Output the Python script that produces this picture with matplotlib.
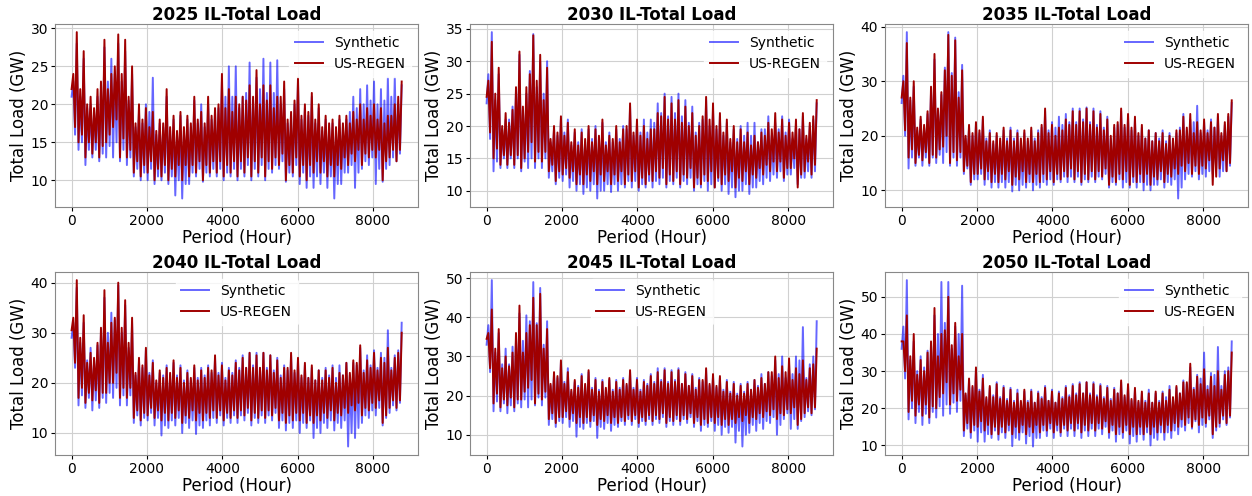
import numpy as np
import matplotlib
matplotlib.use("Agg")
import matplotlib.pyplot as plt

# =====================================================
# DONNEES
# 48 tranches sur l'annee : creux, pic interieur, creux interieur, pic
# =====================================================

years = ["2025", "2030", "2035", "2040", "2045", "2050"]
legend_loc = ["upper right", "upper right", "upper right",
              "upper center", "upper center", "upper right"]

# ---------------- 2025
regen_pk_2025 = [29.5, 27, 21, 22, 28.5, 24, 29.2, 28.5, 25, 20, 19.5, 19, 18, 22, 18.5, 19, 18.5, 21, 19, 21,
                 19.5, 24, 22, 21, 21, 22.5, 24.5, 22.5, 22.5, 21, 23, 19, 23.5, 20, 21.5, 20, 18.5, 18, 18.5, 18.5,
                 19, 20, 19.5, 20, 19.5, 18.5, 20, 23]
regen_tr_2025 = [22, 15, 13, 13.5, 13, 15, 17, 13, 13, 11, 10.5, 11, 10, 10.5, 10, 10.5, 10, 10.5, 11, 10,
                 11, 11, 10.5, 11, 10.5, 11, 10.5, 11, 10.5, 11.5, 12, 10, 11, 10.5, 10, 11, 11, 10.5, 10.5, 11.5,
                 12, 12.5, 12, 13, 13, 10, 13, 12.5]
regen_pk2_2025 = [24, 22, 20, 19.5, 23, 22, 25, 24, 21, 17.5, 18, 17, 16.5, 17.5, 17, 16.5, 17, 17.5, 18, 17.5,
                  18.5, 20, 19.5, 19, 20, 20.5, 21, 20, 20.5, 19.5, 21, 18, 20.5, 18.5, 19, 18, 17, 17.5, 17, 17.5,
                  17.5, 18, 18, 18.5, 18, 17.5, 18.5, 21]
regen_tr2_2025 = [17, 16, 15, 15, 14.5, 16, 18, 15.5, 14, 12.5, 12, 12.5, 11.5, 12, 11.5, 12, 12, 12, 12.5, 12,
                  12.5, 12.5, 12, 12.5, 12.5, 13, 12.5, 13, 12.5, 13, 13.5, 12, 13, 12, 12, 12.5, 12.5, 12, 12, 13,
                  13.5, 14, 13.5, 14, 14, 12.5, 14, 14]
synth_pk_2025 = [28, 26, 20, 21, 27.5, 26, 28, 27, 24, 19, 20, 23.5, 17.5, 21, 18, 18.5, 18, 20.5, 20, 20,
                 19, 23, 25, 25, 21, 25.5, 23.5, 26, 25.5, 25.8, 22, 18.5, 23, 19.5, 21, 19.5, 18, 17.5, 18, 18,
                 21, 22, 22.5, 23, 22, 23.5, 23.5, 22.5]
synth_tr_2025 = [21, 14, 12, 13, 12.5, 13, 13, 12.5, 12, 10.5, 10, 10, 9.5, 10, 9.5, 8, 7.6, 9.5, 10.5, 9.8,
                 10.5, 10.5, 10, 10.5, 10, 10.5, 10, 10.5, 10, 11, 11.5, 9.8, 10.5, 9.5, 9, 9, 9.5, 9, 7.6, 9.5,
                 11, 9, 11.5, 12, 9.5, 9.8, 12, 12.5]
synth_pk2_2025 = [23, 21, 19.5, 19, 22, 23, 24, 23, 20.5, 17, 17.5, 19, 16, 17, 16.5, 16, 16.5, 17, 17.5, 17,
                  18, 19.5, 21, 21, 19.5, 21.5, 20.5, 22, 21.5, 21.5, 20, 17.5, 20, 18, 18.5, 17.5, 16.5, 17, 16.5, 17,
                  19, 19.5, 20, 20.5, 20, 20.5, 21, 20]
synth_tr2_2025 = [16, 15, 14, 14, 13.5, 14.5, 15, 14, 13, 11.5, 11, 11.5, 10.5, 11, 10.5, 10, 9.5, 11, 11.5, 11,
                  11.5, 11.5, 11, 11.5, 11.5, 12, 11.5, 12, 11.5, 12, 12.5, 11, 12, 11, 10.5, 10.5, 11, 10.5, 9.5, 11,
                  12, 11, 12.5, 13, 11.5, 11.5, 13, 13.5]

# ---------------- 2030
regen_pk_2030 = [33, 29, 22, 22.5, 31.5, 26, 34, 31, 29, 20, 21.5, 20.5, 19.5, 19, 20, 19.5, 21, 18.5, 20, 19.5,
                 23.5, 21, 20, 19.5, 22, 24.5, 23.5, 24, 23, 22, 20, 24.5, 23.5, 22, 21, 20, 19.5, 19, 18.5, 19,
                 20.5, 22, 21, 20.5, 21, 22, 20.5, 24]
regen_tr_2030 = [24.5, 15, 14, 14, 14, 13.5, 16, 14.5, 14.5, 13, 11.5, 12.5, 12, 11, 11, 11.5, 11, 11.5, 11, 11.5,
                 11, 11.5, 10.5, 11, 11.5, 12, 11, 11.5, 11, 12, 10.5, 11, 11.5, 10.5, 11, 11.5, 10.5, 11.5, 11, 12,
                 12.5, 13, 13, 12, 13.5, 10.5, 13, 12.5]
regen_pk2_2030 = [27, 25, 20, 20.5, 26, 23, 28, 27, 24, 18, 19, 18.5, 17.5, 17, 18, 17.5, 18.5, 17, 18, 17.5,
                  20, 19, 18.5, 18, 19.5, 21.5, 21, 21, 20.5, 20, 18.5, 21.5, 21, 20, 19, 18, 17.5, 17.5, 17, 17.5,
                  18.5, 19.5, 19, 18.5, 19, 19.5, 18.5, 21.5]
regen_tr2_2030 = [19, 16.5, 15.5, 15.5, 15.5, 15, 17.5, 16, 16, 14, 13, 13.5, 13, 12.5, 12.5, 13, 12.5, 13, 12.5, 13,
                  12.5, 13, 12, 12.5, 13, 13.5, 12.5, 13, 12.5, 13.5, 12, 12.5, 13, 12, 12.5, 13, 12, 13, 12.5, 13.5,
                  14, 14.5, 14.5, 13.5, 15, 12.5, 14.5, 14]
synth_pk_2030 = [34.5, 28, 21, 23, 31, 25, 34.2, 30, 30, 19.5, 21, 21, 19, 19.5, 19.5, 20, 20.5, 19, 19.5, 20,
                 23, 20.5, 21, 21, 23.5, 25, 24.5, 25, 24, 23, 20.5, 24, 22.5, 21.5, 20.5, 19.5, 20, 20.5, 20.5, 19.5,
                 21.5, 20.5, 21.5, 21, 20, 21.5, 20, 23.5]
synth_tr_2030 = [23.5, 13, 13.5, 13.5, 13.5, 13, 13.5, 13.5, 13.5, 12, 11, 11.5, 10.5, 10, 9.5, 10, 8.8, 10, 9.8, 10,
                 10.5, 10.5, 10, 10.5, 10.5, 11, 10.5, 11, 10.5, 11, 10, 10.5, 10, 10.5, 10, 9.5, 9, 10, 9.5, 10.5,
                 11, 11.5, 12, 11.5, 12.5, 11, 12, 12]
synth_pk2_2030 = [28, 24, 19.5, 21, 25.5, 22.5, 28.5, 26, 25, 17.5, 18.5, 19, 17, 17.5, 17.5, 18, 18, 17.5, 17.5, 18,
                  19.5, 18.5, 19, 19, 20.5, 22, 21.5, 22, 21.5, 20.5, 19, 21, 20, 19.5, 18.5, 17.5, 18, 18.5, 18.5, 17.5,
                  19.5, 18.5, 19.5, 19, 18, 19.5, 18, 21]
synth_tr2_2030 = [18, 14.5, 15, 15, 15, 14.5, 15, 15, 15, 13, 12, 12.5, 11.5, 11, 10.5, 11, 10, 11, 11, 11,
                  11.5, 11.5, 11, 11.5, 11.5, 12, 11.5, 12, 11.5, 12, 11, 11.5, 11, 11.5, 11, 10.5, 10, 11, 10.5, 11.5,
                  12, 12.5, 13, 12.5, 13.5, 12, 13, 13]

# ---------------- 2035
regen_pk_2035 = [37, 30, 23.5, 24.5, 35, 28, 38.5, 37.5, 32, 22, 22.5, 23.5, 20.5, 20.5, 21.5, 21, 20.5, 21, 21.5, 20.5,
                 25, 22, 21.5, 23, 24.5, 24.5, 25, 24.5, 24, 23, 22, 25, 24, 23.5, 22, 21, 20.5, 20.5, 20, 21,
                 23.5, 24, 22.5, 23, 22.5, 24, 22.5, 26.5]
regen_tr_2035 = [27, 16, 15, 15.5, 15, 16, 18, 15, 15.5, 13.5, 11.5, 13, 12, 11.5, 11.5, 12, 11, 12, 11.5, 11.5,
                 11.5, 12, 11.5, 12, 12.5, 12, 11.5, 12, 12, 12.5, 11, 11.5, 12, 11, 11.5, 11.5, 11, 12, 11.5, 12.5,
                 13, 13.5, 13, 13, 14, 11, 14, 13.5]
regen_pk2_2035 = [30, 27, 21.5, 22, 29, 25, 32, 31, 27, 20, 20.5, 21, 19, 19, 19.5, 19, 19, 19.5, 19.5, 19,
                  22, 20.5, 20, 21, 22, 22, 22.5, 22, 21.5, 21, 20, 22.5, 22, 21.5, 20.5, 19.5, 19, 19, 18.5, 19.5,
                  21, 21.5, 20.5, 21, 20.5, 21.5, 20.5, 24]
regen_tr2_2035 = [21, 17.5, 16.5, 17, 16.5, 17.5, 20, 17, 17, 14.5, 13, 14, 13.5, 13, 13, 13.5, 12.5, 13.5, 13, 13,
                  13, 13.5, 13, 13.5, 14, 13.5, 13, 13.5, 13.5, 14, 12.5, 13, 13.5, 12.5, 13, 13, 12.5, 13.5, 13, 14,
                  14.5, 15, 14.5, 14.5, 15.5, 12.5, 15.5, 15]
synth_pk_2035 = [39, 29, 23, 24, 34, 27.5, 39, 38, 33, 21.5, 22, 23, 21, 20, 21, 21.5, 21, 20.5, 21, 21,
                 24.5, 22.5, 23.5, 24, 25, 25, 25.2, 25, 24.5, 23.5, 21.5, 24.5, 23.5, 23, 21.5, 21, 20.5, 21, 20.5, 20.5,
                 24, 23, 25.5, 22.5, 23, 23.5, 22, 26]
synth_tr_2035 = [26, 14, 14.5, 14.5, 14.5, 15, 15, 14.5, 14.5, 13, 11, 12, 11, 10.5, 10.5, 10.5, 9.8, 10, 10.5, 10,
                 10.5, 11, 11, 11.5, 11.5, 11.5, 11, 11.5, 11.5, 12, 10.5, 11, 10.5, 10.5, 10.5, 10, 10, 11, 10.5, 11,
                 8.5, 12, 12.5, 12, 12.5, 13, 12.5, 13.5]
synth_pk2_2035 = [31, 26.5, 21, 21.5, 28, 24.5, 32.5, 31.5, 28, 19.5, 20, 20.5, 19.5, 18.5, 19, 19.5, 19.5, 19, 19, 19.5,
                  21.5, 21, 21.5, 22, 22.5, 22.5, 23, 22.5, 22, 21.5, 19.5, 22, 21.5, 21, 20, 19.5, 19, 19.5, 19, 19,
                  21.5, 21, 22.5, 20.5, 21, 21.5, 20, 23.5]
synth_tr2_2035 = [20, 16, 16, 16, 16, 16.5, 17, 16, 16, 14, 12, 13, 12, 11.5, 11.5, 11.5, 11, 11, 11.5, 11,
                  11.5, 12, 12, 12.5, 12.5, 12.5, 12, 12.5, 12.5, 13, 11.5, 12, 11.5, 11.5, 11.5, 11, 11, 12, 11.5, 12,
                  10.5, 13, 13.5, 13, 13.5, 14, 13.5, 14.5]

# ---------------- 2040
regen_pk_2040 = [40.5, 33.5, 26, 28, 38.5, 32, 40, 36.5, 33, 25, 27, 24, 22.5, 23, 24.5, 23, 22, 23.5, 22.5, 23,
                 25.5, 23.5, 22.5, 24, 25, 26, 25.5, 26, 25.5, 24.5, 23, 26, 25, 24, 23.5, 22.5, 22.5, 23, 22, 24,
                 24.5, 27.5, 24.5, 26, 25, 27, 25, 30]
regen_tr_2040 = [30.5, 17, 16, 16.5, 16, 18, 20, 17, 17, 13, 12.5, 13.5, 13, 12.5, 12.5, 13, 12, 13, 12.5, 12.5,
                 13, 13, 12.5, 13, 13, 13.5, 12.5, 13, 13, 13.5, 12.5, 12, 12.5, 12.5, 12, 12, 12.5, 13, 12.5, 13.5,
                 14, 14.5, 13.5, 14.5, 15, 12, 15, 15]
regen_pk2_2040 = [33, 29, 24, 25, 31, 28, 33, 31, 28, 22, 23.5, 21.5, 20.5, 21, 22, 21, 20, 21, 20.5, 21,
                  22.5, 21.5, 20.5, 21.5, 22.5, 23, 23, 23, 22.5, 22, 21, 23, 22.5, 21.5, 21, 20.5, 20.5, 21, 20, 21.5,
                  22, 24, 22, 23, 22.5, 24, 22.5, 26]
regen_tr2_2040 = [24, 19, 18, 18.5, 18, 20, 22, 19, 19, 14.5, 14, 15, 14.5, 14, 14, 14.5, 13.5, 14.5, 14, 14,
                  14.5, 14.5, 14, 14.5, 14.5, 15, 14, 14.5, 14.5, 15, 14, 13.5, 14, 14, 13.5, 13.5, 14, 14.5, 14, 15,
                  15.5, 16, 15, 16, 16.5, 13.5, 16.5, 16.5]
synth_pk_2040 = [39, 32, 27, 27.5, 37, 34, 39.5, 35.5, 32, 24.5, 26.5, 24.5, 22, 23.5, 24, 23.5, 22.5, 23, 23, 23.5,
                 25, 24, 23, 24.5, 25.5, 26, 26, 26, 25.5, 25, 23.5, 25.5, 24.5, 23.5, 23, 22.5, 23, 23.5, 23.5, 24,
                 24, 27, 25.5, 26.5, 26, 30.5, 25.5, 32]
synth_tr_2040 = [29, 15.5, 15, 14.5, 15, 16, 17, 15.5, 15.5, 12, 11.5, 12.5, 11.5, 9.5, 11, 11.5, 10, 11, 9.8, 11,
                 11.5, 12, 11.5, 12, 12, 12.5, 11.5, 12, 12, 12.5, 11, 10.5, 11, 10, 11, 9, 10, 11, 10.5, 11,
                 7.3, 9, 12, 13, 13.5, 11.5, 14, 14.5]
synth_pk2_2040 = [32, 28, 24.5, 24.5, 30, 30, 32.5, 30, 27, 21.5, 23, 22, 20, 21.5, 21.5, 21.5, 20.5, 20.5, 21, 21.5,
                  22, 22, 21, 22, 23, 23, 23.5, 23, 23, 22.5, 21.5, 22.5, 22, 21, 21, 20.5, 21, 21.5, 21, 21.5,
                  21.5, 23.5, 22.5, 23.5, 23, 25, 23, 26.5]
synth_tr2_2040 = [23, 17.5, 17, 16.5, 17, 18, 19, 17.5, 17.5, 13.5, 13, 14, 13, 11.5, 12.5, 13, 12, 12.5, 11.5, 12.5,
                  13, 13.5, 13, 13.5, 13.5, 14, 13, 13.5, 13.5, 14, 12.5, 12, 12.5, 12, 12.5, 11, 12, 12.5, 12, 12.5,
                  10, 11, 13.5, 14.5, 15, 13, 15.5, 16]

# ---------------- 2045
regen_pk_2045 = [42, 37, 30, 31, 43, 36, 45, 46, 37, 26, 29, 26, 24, 25, 26.5, 24, 23.5, 24.5, 23.5, 24,
                 26.5, 24, 23.5, 25, 26, 26.5, 26, 26.5, 25.5, 25, 24, 27, 25.5, 25, 23.5, 23, 22.5, 23, 24, 24.5,
                 26, 30, 27.5, 29.5, 27, 29, 27, 32]
regen_tr_2045 = [34.5, 18, 17, 17.5, 17, 19, 22, 18, 19, 14, 13, 14.5, 14, 13, 13, 13.5, 12.5, 13.5, 13, 13,
                 13.5, 13.5, 13, 13.5, 13.5, 14, 13, 13.5, 13.5, 14, 13, 12.5, 13, 13, 12.5, 12.5, 13, 13.5, 13, 14,
                 14.5, 15, 14, 15, 15.5, 12.5, 15.5, 15.5]
regen_pk2_2045 = [36, 32, 27, 27.5, 36, 31, 38, 38, 32, 23, 25, 23, 21.5, 22, 23, 21.5, 21, 22, 21, 21.5,
                  23, 21.5, 21, 22.5, 23, 23.5, 23, 23.5, 23, 22.5, 21.5, 24, 23, 22.5, 21, 20.5, 20, 20.5, 21.5, 22,
                  23, 26, 24.5, 26, 24, 25.5, 24, 28]
regen_tr2_2045 = [27, 20.5, 19, 19.5, 19, 21, 24, 20.5, 21, 15.5, 14.5, 16, 15.5, 14.5, 14.5, 15, 14, 15, 14.5, 14.5,
                  15, 15, 14.5, 15, 15, 15.5, 14.5, 15, 15, 15.5, 14.5, 14, 14.5, 14.5, 14, 14, 14.5, 15, 14.5, 15.5,
                  16, 16.5, 15.5, 16.5, 17, 14, 17, 17]
synth_pk_2045 = [49.5, 36, 32, 32.5, 41, 40.5, 49, 47.5, 39, 25.5, 28.5, 27, 23.5, 25.5, 26, 24.5, 24, 24, 24, 24.5,
                 26, 24.5, 24, 25.5, 27, 27, 26.5, 27, 26, 25.5, 24.5, 26.5, 25, 24.5, 24, 23.5, 23, 23.5, 24, 25.5,
                 26, 29, 30, 28, 30, 37.5, 28, 39]
synth_tr_2045 = [33, 16, 16, 15.5, 16, 17, 17, 17.5, 17.5, 12.5, 12, 13, 12, 9.5, 11.5, 12, 9.2, 11.5, 11, 12,
                 12.5, 12.5, 12, 12.5, 12.5, 13, 12, 12.5, 12.5, 13, 12, 11, 12, 11, 10, 10.5, 8, 7, 10.5, 11,
                 11.5, 13, 10, 14, 11.5, 11.5, 14.5, 15]
synth_pk2_2045 = [38, 31, 28, 28, 34, 34, 39, 38.5, 33, 22.5, 24.5, 23.5, 21, 22.5, 22.5, 22, 21.5, 21.5, 21.5, 22,
                  22.5, 22, 21.5, 23, 23.5, 24, 23.5, 24, 23, 22.5, 22, 23.5, 22.5, 22, 21.5, 21, 20.5, 21, 21.5, 22.5,
                  23, 25, 25.5, 24.5, 25.5, 29, 24.5, 30]
synth_tr2_2045 = [26, 18.5, 18, 17.5, 18, 19, 19, 19.5, 19.5, 14, 13.5, 14.5, 13.5, 12, 13, 13.5, 12, 13, 12.5, 13.5,
                  14, 14, 13.5, 14, 14, 14.5, 13.5, 14, 14, 14.5, 13.5, 12.5, 13.5, 12.5, 12, 12, 11, 10, 12.5, 13,
                  13.5, 14.5, 12.5, 15.5, 14, 13.5, 16, 16.5]

# ---------------- 2050
regen_pk_2050 = [45, 40, 33, 35, 47, 40, 50, 43, 40, 28, 31, 28, 26, 26.5, 25.5, 25, 24, 25, 24.5, 24,
                 25.5, 24.5, 24, 25.5, 26, 26.5, 27, 26.5, 26, 25.5, 25, 27.5, 26.5, 25.5, 24.5, 24, 24.5, 24, 25, 26,
                 27, 32, 28.5, 30.5, 28.5, 30, 29, 35]
regen_tr_2050 = [38, 19, 18, 18, 17.5, 20, 24, 21, 22, 14, 13.5, 15, 14, 13, 13, 13.5, 13, 13.5, 13, 13.5,
                 13.5, 14, 13.5, 13.5, 14, 14, 13.5, 14, 14, 14.5, 13.5, 13, 13.5, 13, 13, 13, 13, 13.5, 13.5, 14,
                 15, 15.5, 15, 15.5, 16, 13, 16, 16]
regen_pk2_2050 = [38, 34, 29, 30, 38, 34, 41, 37, 34, 24, 26, 24.5, 23, 23, 22.5, 22, 21.5, 22, 21.5, 21.5,
                  22.5, 22, 21.5, 22.5, 23, 23.5, 24, 23.5, 23, 22.5, 22, 24, 23.5, 22.5, 22, 21.5, 21.5, 21.5, 22, 23,
                  24, 27, 25, 26.5, 25, 26, 25, 30]
regen_tr2_2050 = [30, 22, 21, 21, 20.5, 23, 27, 24, 25, 16, 15.5, 16.5, 15.5, 15, 15, 15.5, 15, 15.5, 15, 15.5,
                  15.5, 16, 15.5, 15.5, 16, 16, 15.5, 16, 16, 16.5, 15.5, 15, 15.5, 15, 15, 15, 15, 15.5, 15.5, 16,
                  17, 17.5, 17, 17.5, 18, 15, 18, 18]
synth_pk_2050 = [54.5, 38, 34, 35.5, 45, 54, 54, 42, 53, 27.5, 30, 29, 25.5, 27, 26, 25.5, 25, 24.5, 25, 24.5,
                 26, 25, 24.5, 26, 26.5, 27, 27, 27, 26.5, 26, 25.5, 27, 26, 25, 24, 25, 24, 24.5, 26, 25.5,
                 27.5, 31, 29, 35, 29.5, 36.5, 30, 38]
synth_tr_2050 = [36, 17, 16, 15.5, 16, 17.5, 18, 18.5, 19, 12.5, 12, 11, 11, 12, 11.5, 12, 9.8, 11.5, 10.5, 9.7,
                 12, 12.5, 12, 12.5, 12.5, 12.5, 12, 12.5, 12.5, 13, 12, 11, 12, 10.5, 11, 11.5, 10, 11.5, 11.5, 12,
                 13, 14, 14.5, 13.5, 15, 12, 15, 15.5]
synth_pk2_2050 = [42, 33, 30, 31, 37, 40, 43, 36, 40, 23.5, 25.5, 25, 22.5, 23.5, 23, 22.5, 22, 21.5, 22, 21.5,
                  23, 22, 21.5, 23, 23.5, 24, 24, 24, 23.5, 23, 22.5, 24, 23, 22, 21.5, 22, 21.5, 22, 23, 22.5,
                  24, 26.5, 25.5, 28, 26, 29, 26, 31]
synth_tr2_2050 = [28, 20, 19, 18.5, 19, 20.5, 21, 21.5, 22, 14.5, 14, 13.5, 13, 14, 13.5, 14, 12, 13.5, 12.5, 12,
                  14, 14.5, 14, 14.5, 14.5, 14.5, 14, 14.5, 14.5, 15, 14, 13, 14, 12.5, 13, 13.5, 12, 13.5, 13.5, 14,
                  15, 16, 16.5, 15.5, 17, 14, 17, 17.5]

regen = [
    (regen_tr_2025, regen_pk2_2025, regen_tr2_2025, regen_pk_2025),
    (regen_tr_2030, regen_pk2_2030, regen_tr2_2030, regen_pk_2030),
    (regen_tr_2035, regen_pk2_2035, regen_tr2_2035, regen_pk_2035),
    (regen_tr_2040, regen_pk2_2040, regen_tr2_2040, regen_pk_2040),
    (regen_tr_2045, regen_pk2_2045, regen_tr2_2045, regen_pk_2045),
    (regen_tr_2050, regen_pk2_2050, regen_tr2_2050, regen_pk_2050),
]
synth = [
    (synth_tr_2025, synth_pk2_2025, synth_tr2_2025, synth_pk_2025),
    (synth_tr_2030, synth_pk2_2030, synth_tr2_2030, synth_pk_2030),
    (synth_tr_2035, synth_pk2_2035, synth_tr2_2035, synth_pk_2035),
    (synth_tr_2040, synth_pk2_2040, synth_tr2_2040, synth_pk_2040),
    (synth_tr_2045, synth_pk2_2045, synth_tr2_2045, synth_pk_2045),
    (synth_tr_2050, synth_pk2_2050, synth_tr2_2050, synth_pk_2050),
]


def serie(listes):
    # entrelace creux / pic interieur / creux interieur / pic sur 8760 h
    n = len(listes[0])
    vals = np.empty(4 * n)
    for j, lst in enumerate(listes):
        vals[j::4] = lst
    hours = np.linspace(0, 8760, len(vals))
    return hours, vals


# =====================================================
# FIGURE
# =====================================================

fig, axes = plt.subplots(2, 3, figsize=(12.52, 4.96), dpi=100)
fig.subplots_adjust(left=0.044, right=0.997, top=0.952, bottom=0.083,
                    wspace=0.143, hspace=0.355)

for i, ax in enumerate(axes.flat):
    hs, vs = serie(synth[i])
    hr, vr = serie(regen[i])
    ax.plot(hs, vs, color="blue", alpha=0.6, linewidth=1.4, label="Synthetic")
    ax.plot(hr, vr, color="#a00000", linewidth=1.4, label="US-REGEN")

    ax.set_title(f"{years[i]} IL-Total Load", fontsize=12, fontweight="bold", pad=3)
    ax.set_xlabel("Period (Hour)", fontsize=12, labelpad=1)
    ax.set_ylabel("Total Load (GW)", fontsize=12, labelpad=2)
    ax.tick_params(labelsize=10, length=3, pad=2)
    ax.set_xticks([0, 2000, 4000, 6000, 8000])
    ax.grid(True, color="#d0d0d0", linewidth=0.8)
    for sp in ax.spines.values():
        sp.set_color("#888888")
    ax.legend(loc=legend_loc[i], fontsize=10, frameon=True, framealpha=0.8,
              edgecolor="white")

fig.savefig("out.png", dpi=100)
